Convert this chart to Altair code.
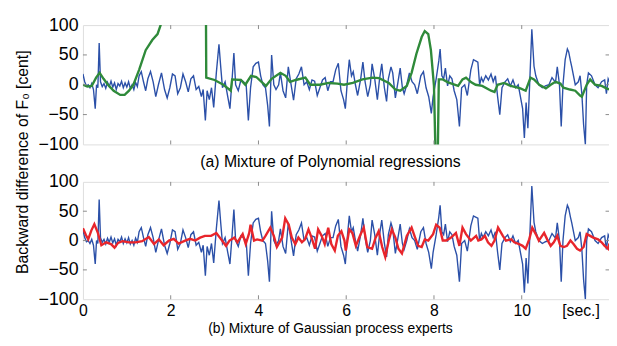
import altair as alt
import pandas as pd

# ---------------- data ----------------
blue_t = [0.00, 0.04, 0.08, 0.12, 0.16, 0.20, 0.24, 0.28, 0.31, 0.34, 0.37, 0.40, 0.44, 0.48, 0.52,
          0.56, 0.60, 0.64, 0.68, 0.72, 0.76, 0.80, 0.84, 0.88, 0.92, 0.96, 1.00, 1.04, 1.08, 1.12,
          1.16, 1.20, 1.24, 1.28, 1.33, 1.38, 1.43, 1.48, 1.54, 1.60, 1.66, 1.72, 1.79, 1.86, 1.92,
          1.98, 2.04, 2.10, 2.16, 2.22, 2.28, 2.34, 2.40, 2.46, 2.52, 2.58, 2.64, 2.70, 2.74, 2.79,
          2.83, 2.88, 2.93, 2.98, 3.04, 3.10, 3.14, 3.18, 3.24, 3.30, 3.35, 3.40, 3.44, 3.48, 3.54,
          3.60, 3.66, 3.72, 3.77, 3.82, 3.88, 3.94, 4.00, 4.05, 4.10, 4.16, 4.21, 4.25, 4.30, 4.35,
          4.40, 4.46, 4.50, 4.56, 4.62, 4.68, 4.74, 4.80, 4.86, 4.92, 4.98, 5.04, 5.10, 5.16, 5.22,
          5.28, 5.34, 5.40, 5.46, 5.52, 5.58, 5.64, 5.70, 5.76, 5.82, 5.88, 5.94, 5.98, 6.03, 6.07,
          6.12, 6.16, 6.21, 6.26, 6.33, 6.38, 6.43, 6.49, 6.55, 6.59, 6.65, 6.71, 6.76, 6.81, 6.87,
          6.92, 6.96, 7.02, 7.06, 7.12, 7.18, 7.23, 7.28, 7.32, 7.38, 7.44, 7.50, 7.56, 7.62, 7.70,
          7.76, 7.82, 7.88, 7.94, 7.98, 8.05, 8.11, 8.14, 8.18, 8.22, 8.26, 8.31, 8.36, 8.41, 8.46,
          8.52, 8.58, 8.63, 8.70, 8.76, 8.84, 8.90, 8.95, 9.00, 9.04, 9.08, 9.12, 9.18, 9.24, 9.30,
          9.35, 9.40, 9.45, 9.50, 9.55, 9.62, 9.68, 9.74, 9.80, 9.86, 9.92, 9.97, 10.02, 10.06, 10.10,
          10.14, 10.18, 10.23, 10.28, 10.32, 10.39, 10.47, 10.54, 10.62, 10.69, 10.77, 10.81, 10.86,
          10.90, 10.94, 10.99, 11.04, 11.07, 11.11, 11.14, 11.22, 11.29, 11.33, 11.37, 11.41, 11.45,
          11.48, 11.52, 11.59, 11.67, 11.74, 11.82, 11.89, 11.93, 11.97, 12.00]
blue_v = [18, 5, -2, 0, -5, 2, -8, -40, 0, -5, 70, 5, -3, 2, -6,
          4, -3, 6, -4, 3, -8, 2, -2, 6, -5, 3, -4, 5, -6, 0,
          -8, 4, -3, 15, 22, 5, -10, 10, 22, 5, -20, 0, 20, -8, -22,
          -5, 18, 15, -15, -5, 18, 5, -12, 10, 15, -8, -3, -20, -8, -60,
          -10, -25, -5, -38, 20, 68, 30, -5, 5, -20, -40, 10, 53, 0, -10,
          8, 5, 0, -60, -5, 30, 36, 38, 15, 0, -5, -35, -70, 50, 0,
          -8, 0, 20, -10, -22, 30, 2, -26, 10, 18, 30, 0, 5, -8, 8,
          6, -18, -5, 8, 12, -10, 5, 5, 25, 36, -10, -25, -40, 10, 42,
          15, 22, 0, -18, 10, 38, 5, -20, 0, 35, 10, -25, 10, 35, -5,
          -28, 10, 30, 20, -22, 5, 28, -5, -15, 0, 20, 5, 0, -15, 15,
          22, -5, -20, -48, -20, 10, 40, 60, 15, 10, 28, -2, 15, 10, -10,
          -25, -70, -5, 0, -18, 25, 42, 40, 38, 0, 12, 5, 15, 8, 18,
          5, 15, -20, -50, -5, 5, 10, -2, 8, -5, 0, -20, -40, -89, -30,
          -73, 0, 93, 31, 15, 0, -5, -2, 0, 12, 4, 30, 0,
          -70, 0, 42, 60, 55, 40, 30, 0, 5, 15, -15, -67, -100,
          0, 20, 15, 0, -5, 5, 8, -15, 10, 5]

green_t = [0.00, 0.10, 0.20, 0.30, 0.38, 0.47, 0.57, 0.70, 0.85, 0.95, 1.05, 1.15, 1.28, 1.43, 1.58,
           1.70, 1.77, 1.90, 2.10, 2.40, 2.65, 2.80, 2.81, 3.00, 3.20, 3.37, 3.40, 3.60, 3.70, 3.83,
           3.95, 4.17, 4.30, 4.50, 4.62, 4.72, 4.85, 5.07, 5.18, 5.40, 5.60, 5.80, 5.95, 6.15, 6.37,
           6.60, 6.75, 6.97, 7.12, 7.23, 7.38, 7.49, 7.60, 7.72, 7.79, 7.87, 7.93, 8.00, 8.03, 8.06,
           8.09, 8.11, 8.20, 8.32, 8.55, 8.65, 8.73, 8.85, 8.95, 9.10, 9.30, 9.38, 9.45, 9.60, 9.75,
           9.97, 10.09, 10.20, 10.28, 10.40, 10.55, 10.66, 10.77, 10.88, 10.95, 11.10, 11.22, 11.33,
           11.37, 11.48, 11.56, 11.67, 11.82, 11.93, 12.00]
green_v = [0, -3, -2, 12, 20, 10, 0, -10, -17, -17, -10, 0, 25, 58, 75,
           85, 100, 160, 230, 250, 220, 180, 12, 8, 0, -10, 9, 8, 0, 15,
           13, -2, 10, 20, 15, 5, 8, 12, 0, 0, 3, 2, 0, 3, 9,
           12, 11, 3, -8, -10, -2, 20, 52, 80, 90, 85, 58, -2, -100, -200,
           -100, 9, 9, 4, -2, 9, 12, 4, 0, -2, -10, -12, 0, 3, -2,
           -6, -10, 12, 9, 0, -6, 0, 5, 2, -5, -8, -10, -18,
           -20, 0, 9, 0, -2, -6, -8]

red_t = [0.00, 0.07, 0.12, 0.19, 0.26, 0.34, 0.42, 0.53, 0.64, 0.72, 0.80, 0.90, 1.05, 1.20, 1.35,
         1.50, 1.62, 1.73, 1.84, 1.96, 2.07, 2.18, 2.33, 2.44, 2.56, 2.67, 2.78, 2.92, 3.04, 3.15,
         3.26, 3.34, 3.45, 3.52, 3.64, 3.71, 3.79, 3.82, 3.90, 3.97, 4.09, 4.16, 4.27, 4.35, 4.42,
         4.54, 4.61, 4.69, 4.76, 4.84, 4.91, 4.99, 5.06, 5.14, 5.21, 5.29, 5.36, 5.44, 5.51, 5.59,
         5.66, 5.74, 5.81, 5.89, 5.96, 5.99, 6.07, 6.14, 6.22, 6.33, 6.40, 6.48, 6.59, 6.67, 6.74,
         6.82, 6.89, 6.97, 7.04, 7.12, 7.19, 7.27, 7.38, 7.49, 7.57, 7.64, 7.72, 7.79, 7.87, 7.98,
         8.05, 8.13, 8.20, 8.28, 8.39, 8.50, 8.58, 8.65, 8.73, 8.84, 8.96, 9.01, 9.08, 9.16, 9.23,
         9.31, 9.38, 9.46, 9.57, 9.64, 9.76, 9.83, 9.94, 10.02, 10.09, 10.17, 10.24, 10.32, 10.39,
         10.51, 10.58, 10.66, 10.73, 10.81, 10.88, 10.96, 11.03, 11.11, 11.18, 11.26, 11.33, 11.41,
         11.48, 11.56, 11.63, 11.74, 11.82, 11.89, 11.97, 12.00]
red_v = [21, 9, 2, 17, 28, 13, -8, -3, -6, -12, -4, -1, -3, -3, -1,
         6, -6, 2, -8, 0, 3, -5, 0, 3, 0, 5, 8, 8, 13, 2,
         -9, 0, 5, -3, 11, -6, 13, 27, 0, 2, 0, 8, 22, 8, -11,
         5, 38, 27, 5, -6, 5, -3, 2, 19, 5, -14, 19, 8, -6, 22,
         -6, -17, 8, 16, 0, -17, 19, 13, -9, 11, 22, -11, -14, 5, 16,
         -11, -28, 0, 19, 5, -14, -22, 8, 22, 5, -9, -11, 2, 0, 11,
         27, 22, 0, 0, 5, 13, -9, 22, 11, 0, 8, 0, 2, 8, -3,
         -9, 0, 22, 8, 0, 2, -3, -6, -9, -14, 2, 22, 11, 0,
         13, 2, -9, -3, 8, -9, -11, -9, 0, -6, -14, -17, -11,
         11, 8, 5, 2, -3, -9, -14, -5]

x_ticks = [0, 2, 4, 6, 8, 10]
y_ticks = [-100, -50, 0, 50, 100]
panel_titles = ["(a) Mixture of Polynomial regressions",
                "(b) Mixture of Gaussian process experts"]
y_title = "Backward difference of F₀ [cent]"
x_unit = "[sec.]"

# ---------------- style ----------------
FONT = "Liberation Sans"
W = 534
H1, H2 = 121, 119
GAP = 38
BLUE = "#2b50a8"
GREEN = "#2f8a3a"
RED = "#e8252b"
GRAY = "#8a8a8a"

xs = alt.Scale(domain=[0, 12], nice=False, zero=False)
ys = alt.Scale(domain=[-100, 100], nice=False, zero=False)

blue = pd.DataFrame({"t": blue_t, "v": blue_v})
green = pd.DataFrame({"t": green_t, "v": green_v})
red = pd.DataFrame({"t": red_t, "v": red_v})

y_axis = alt.Axis(values=y_ticks, title=None, labelFontSize=18, labelFont=FONT,
                  labelColor="black", tickSize=0, domain=False, grid=False,
                  labelPadding=5)
x_axis = alt.Axis(values=x_ticks, title=None, labelFontSize=16, labelFont=FONT,
                  labelColor="black", tickSize=0, domain=False, grid=False,
                  labelPadding=4, labelFlush=False)

# invisible anchor that fixes the chart's left/top extent
anchor_df = pd.DataFrame({"k": [0]})


def anchor(x, y):
    return alt.Chart(anchor_df).mark_rule(strokeOpacity=0, strokeWidth=0.01).encode(
        x=alt.value(x), x2=alt.value(x), y=alt.value(y), y2=alt.value(y + 1))


def build_panel(h, xax, other_df, other_color, extra, title, title_offset, title_size):
    X = alt.X("t:Q", scale=xs, axis=xax)
    Y = alt.Y("v:Q", scale=ys, axis=y_axis)
    xt = pd.DataFrame({"t": x_ticks[1:]})
    yt = pd.DataFrame({"v": y_ticks[1:-1]})
    rule = dict(color=GRAY, strokeWidth=1)
    layers = [
        alt.Chart(blue).mark_line(color=BLUE, strokeWidth=1.4, clip=True).encode(x=X, y=Y),
        alt.Chart(other_df).mark_line(color=other_color, strokeWidth=2.4, clip=True).encode(x=X, y=Y),
        alt.Chart(xt).mark_rule(**rule).encode(x=X, y=alt.value(0), y2=alt.value(4)),
        alt.Chart(xt).mark_rule(**rule).encode(x=X, y=alt.value(h), y2=alt.value(h - 4)),
        alt.Chart(yt).mark_rule(**rule).encode(y=Y, x=alt.value(0), x2=alt.value(4)),
        alt.Chart(yt).mark_rule(**rule).encode(y=Y, x=alt.value(W), x2=alt.value(W - 4)),
    ] + extra
    return alt.layer(*layers).properties(
        width=W, height=h,
        title=alt.TitleParams(text=title, orient="bottom", anchor="middle", dx=-16,
                              offset=title_offset, fontSize=title_size, font=FONT,
                              fontWeight="normal", color="black"))


top = build_panel(H1, None, green, GREEN, [anchor(-75, -14)], panel_titles[0], 1, 16)

ylab = alt.Chart(pd.DataFrame({"label": [y_title]})).mark_text(
    angle=270, fontSize=16, font=FONT, align="center", baseline="middle", color="black"
).encode(text="label:N", x=alt.value(-61), y=alt.value(-20))
unit = alt.Chart(pd.DataFrame({"t": [11.35], "label": [x_unit]})).mark_text(
    fontSize=16, font=FONT, align="center", baseline="top", color="black"
).encode(x=alt.X("t:Q", scale=xs, axis=x_axis), y=alt.value(H2 + 4), text="label:N")

bottom = build_panel(H2, x_axis, red, RED, [ylab, unit], panel_titles[1], 3, 14)

chart = alt.vconcat(top, bottom, spacing=GAP, bounds="flush").properties(
    padding={"left": 0, "top": 0, "right": -1.5, "bottom": 0}
).configure_view(stroke=GRAY, strokeWidth=1).configure(background="white")

chart.save("out.html", embed_options={"renderer": "svg", "actions": False})
